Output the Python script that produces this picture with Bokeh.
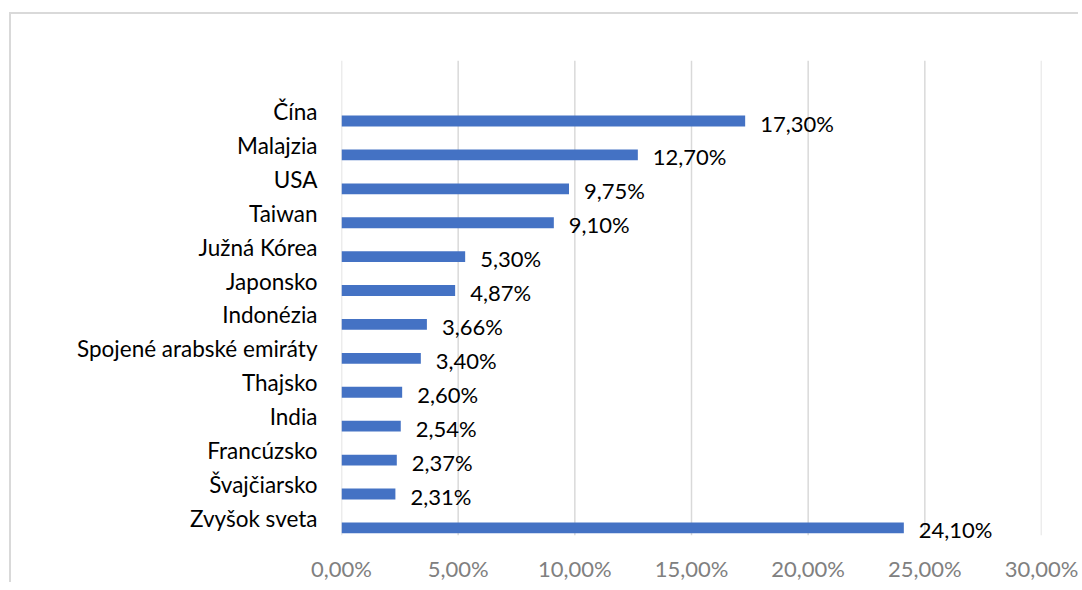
from bokeh.plotting import figure
from bokeh.models import ColumnDataSource, FactorRange, FixedTicker, Range1d
from bokeh.transform import dodge
from bokeh.core.properties import value
from bokeh.embed import file_html
from bokeh.resources import INLINE

countries = ["Čína", "Malajzia", "USA", "Taiwan", "Južná Kórea", "Japonsko", "Indonézia",
             "Spojené arabské emiráty", "Thajsko", "India", "Francúzsko", "Švajčiarsko", "Zvyšok sveta"]
shares = [17.30, 12.70, 9.75, 9.10, 5.30, 4.87, 3.66, 3.40, 2.60, 2.54, 2.37, 2.31, 24.10]
share_labels = ["17,30%", "12,70%", "9,75%", "9,10%", "5,30%", "4,87%", "3,66%", "3,40%",
                "2,60%", "2,54%", "2,37%", "2,31%", "24,10%"]
tick_values = [0, 5, 10, 15, 20, 25, 30]
tick_labels = ["0,00%", "5,00%", "10,00%", "15,00%", "20,00%", "25,00%", "30,00%"]

FONT = "Lato"

factors = list(reversed(countries)) + [" "]
src = ColumnDataSource(dict(cat=countries, val=shares, lab=share_labels))

p = figure(width=1069, height=570,
           output_backend="svg", toolbar_location=None,
           y_range=FactorRange(*factors, range_padding=0.3, range_padding_units="absolute"),
           x_range=Range1d(0, 30),
           min_border_left=330, min_border_right=39, min_border_top=36, min_border_bottom=32)
p.margin = (12, 0, 0, 9)
p.styles = {"border-top": "2px solid #d9d9d9", "border-left": "2px solid #d9d9d9"}
p.outline_line_color = None
p.background_fill_color = "white"
p.border_fill_color = "white"

# vertical gridlines spanning the category area only
n = len(factors)
p.segment(x0=tick_values, x1=tick_values, y0=[0] * len(tick_values), y1=[n] * len(tick_values),
          line_color="#d9d9d9", line_width=1.5)

p.hbar(y=dodge("cat", -0.28, range=p.y_range), right="val", left=0, height=0.32,
       source=src, fill_color="#4472C4", line_color=None)

p.text(x="val", y=dodge("cat", -0.34, range=p.y_range), text="lab", source=src,
       x_offset=15, text_baseline="middle", text_align="left",
       text_font=value(FONT), text_font_size="22px", text_color="#000000")

p.xaxis.ticker = FixedTicker(ticks=tick_values)
p.xaxis.major_label_overrides = {v: l for v, l in zip(tick_values, tick_labels)}
p.xaxis.axis_line_color = None
p.xaxis.major_tick_line_color = None
p.xaxis.minor_tick_line_color = None
p.xaxis.major_label_text_font = FONT
p.xaxis.major_label_text_font_size = "22px"
p.xaxis.major_label_text_color = "#808080"
p.xaxis.major_label_standoff = 3

p.yaxis.axis_line_color = None
p.yaxis.major_tick_line_color = None
p.yaxis.minor_tick_line_color = None
p.yaxis.major_label_text_font = FONT
p.yaxis.major_label_text_font_size = "22.5px"
p.yaxis.major_label_text_color = "#000000"
p.yaxis.major_label_standoff = 18

p.xgrid.grid_line_color = None
p.ygrid.grid_line_color = None

open("out.html", "w").write(file_html(p, INLINE))
